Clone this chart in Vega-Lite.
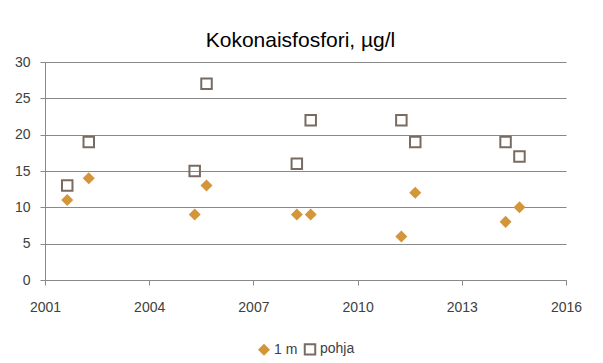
{
  "$schema": "https://vega.github.io/schema/vega-lite/v6.json",
  "width": 521,
  "height": 218,
  "autosize": {"type": "none"},
  "padding": {"left": 45, "top": 62, "right": 37, "bottom": 83},
  "background": "white",
  "title": {"text": "Kokonaisfosfori, µg/l", "fontSize": 21, "font": "Liberation Sans", "fontWeight": "normal", "color": "#000000", "anchor": "middle", "dx": -5, "offset": 4},
  "data": {"values": [
    {"year": 2001.64, "value": 11, "series": "1 m"},
    {"year": 2002.26, "value": 14, "series": "1 m"},
    {"year": 2005.31, "value": 9, "series": "1 m"},
    {"year": 2005.65, "value": 13, "series": "1 m"},
    {"year": 2008.25, "value": 9, "series": "1 m"},
    {"year": 2008.65, "value": 9, "series": "1 m"},
    {"year": 2011.26, "value": 6, "series": "1 m"},
    {"year": 2011.66, "value": 12, "series": "1 m"},
    {"year": 2014.26, "value": 8, "series": "1 m"},
    {"year": 2014.66, "value": 10, "series": "1 m"},
    {"year": 2001.64, "value": 13, "series": "pohja"},
    {"year": 2002.26, "value": 19, "series": "pohja"},
    {"year": 2005.31, "value": 15, "series": "pohja"},
    {"year": 2005.65, "value": 27, "series": "pohja"},
    {"year": 2008.25, "value": 16, "series": "pohja"},
    {"year": 2008.65, "value": 22, "series": "pohja"},
    {"year": 2011.26, "value": 22, "series": "pohja"},
    {"year": 2011.66, "value": 19, "series": "pohja"},
    {"year": 2014.26, "value": 19, "series": "pohja"},
    {"year": 2014.66, "value": 17, "series": "pohja"}
  ]},
  "mark": {"type": "point", "strokeWidth": 2, "opacity": 1},
  "encoding": {
    "x": {"field": "year", "type": "quantitative",
      "scale": {"domain": [2001, 2016], "nice": false, "zero": false},
      "axis": {"title": null, "values": [2001, 2004, 2007, 2010, 2013, 2016], "format": "d", "grid": false,
        "domainColor": "#898989", "tickColor": "#898989", "tickSize": 5, "labelPadding": 15,
        "labelFont": "Liberation Sans", "labelFontSize": 14, "labelColor": "#404040", "labelFlush": false}},
    "y": {"field": "value", "type": "quantitative",
      "scale": {"domain": [0, 30], "nice": false},
      "axis": {"title": null, "values": [0, 5, 10, 15, 20, 25, 30], "grid": true, "gridColor": "#898989",
        "domainColor": "#898989", "tickColor": "#898989", "tickSize": 5, "labelPadding": 10,
        "labelFont": "Liberation Sans", "labelFontSize": 14, "labelColor": "#404040"}},
    "shape": {"field": "series", "type": "nominal", "scale": {"domain": ["1 m", "pohja"], "range": ["diamond", "square"]}, "legend": {"title": null}},
    "fill": {"field": "series", "type": "nominal", "scale": {"domain": ["1 m", "pohja"], "range": ["#D4963A", "transparent"]}, "legend": {"title": null}},
    "stroke": {"field": "series", "type": "nominal", "scale": {"domain": ["1 m", "pohja"], "range": ["#D4963A", "#786C62"]}, "legend": {"title": null}},
    "size": {"field": "series", "type": "nominal", "scale": {"domain": ["1 m", "pohja"], "range": [85, 110]}, "legend": {"title": null}}
  },
  "config": {
    "view": {"stroke": null},
    "legend": {"orient": "bottom", "direction": "horizontal", "labelFont": "Liberation Sans", "labelFontSize": 14, "labelColor": "#404040", "symbolStrokeWidth": 2, "columnPadding": 2, "labelOffset": 3, "offset": 28,
      "layout": {"bottom": {"anchor": "middle"}}}
  }
}
